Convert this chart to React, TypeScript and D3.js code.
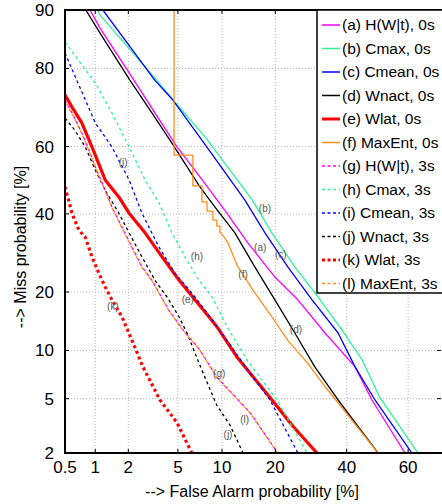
import React from 'react';
import * as d3 from 'd3';

// [false alarm %, miss %]
const hwt0 = [[0.89, 90], [1.11, 87.4], [2.24, 77.4], [3.33, 69.4], [4.92, 59.9], [6.84, 52.2], [10.4, 41.1], [14.3, 31.8], [19.9, 23.3], [25.6, 18.4], [33.3, 12.5], [42.7, 8.0], [48.2, 4.9], [59.0, 2.0]];
const cmax0 = [[1.06, 90], [1.11, 89.3], [3.45, 77.4], [4.59, 72.7], [7.76, 62.8], [15.1, 44.1], [19.2, 34.6], [24.8, 25.7], [31.2, 19.0], [38.5, 13.0], [45.0, 8.8], [50.8, 5.1], [63.1, 2.0]];
const cmean0 = [[1.18, 90], [3.33, 77.4], [4.59, 72.7], [8.24, 59.0], [13.7, 44.1], [17.7, 34.6], [23.0, 25.7], [29.5, 18.4], [37.3, 12.5], [42.7, 8.0], [49.2, 4.9], [61.2, 2.0]];
const wnact0 = [[0.81, 90], [1.11, 86.6], [2.07, 77.4], [3.15, 69.4], [4.51, 61.0], [7.17, 48.0], [9.03, 42.0], [12.0, 34.6], [15.6, 25.7], [19.9, 18.4], [24.8, 12.5], [30.3, 8.0], [37.3, 4.9], [50.2, 2.0]];
const wlat0 = [[0.5, 73.9], [0.59, 70.9], [0.74, 66.7], [0.93, 59.9], [1.24, 50.1], [1.65, 45.0], [2.03, 40.2], [2.77, 34.6], [3.79, 28.2], [5.09, 22.6], [6.62, 18.4], [8.24, 15.2], [9.28, 13.5], [12.5, 9.0], [18.8, 5.1], [24.3, 3.2], [30.9, 2.0]];
const maxent0 = [[4.68, 95], [4.68, 57.5], [6.41, 57.5], [6.41, 48.3], [7.4, 48.3], [7.4, 43.5], [8.0, 43.5], [8.0, 40.8], [8.75, 40.8], [8.75, 38.2], [9.28, 38.2], [9.28, 36.5], [9.71, 36.5], [9.71, 34.8], [10.4, 33.2], [10.9, 31.8], [12.5, 25.7], [15.6, 19.8], [19.2, 15.2], [23.0, 11.4], [28.3, 8.4], [33.3, 6.0], [36.6, 4.9], [50.2, 2.0]];
const hwt3 = [[0.5, 72.7], [0.59, 69.4], [0.74, 63.9], [0.87, 59.0], [1.0, 54.0], [1.24, 47.0], [1.43, 42.0], [1.76, 36.2], [2.15, 30.7], [2.61, 25.7], [3.15, 22.6], [3.59, 19.8], [4.28, 16.4], [5.45, 13.0], [7.17, 10.05], [9.28, 6.9], [14.7, 4.0], [20.6, 2.0]];
const cmax3 = [[0.5, 85.1], [1.0, 76.8], [1.43, 69.4], [2.03, 59.9], [2.77, 50.1], [3.59, 43.2], [4.51, 34.6], [5.63, 28.2], [7.06, 22.6], [8.63, 19.0], [10.75, 13.5], [14.1, 8.8], [20.4, 4.9], [28.1, 2.0]];
const cmean3 = [[0.5, 83.1], [0.66, 77.4], [1.0, 66.7], [1.43, 59.9], [2.03, 50.1], [2.61, 40.2], [3.59, 30.7], [4.76, 24.2], [6.3, 19.8], [7.76, 16.4], [10.75, 11.4], [14.7, 7.3], [18.8, 4.9], [25.6, 2.0]];
const wnact3 = [[0.5, 68.0], [0.63, 64.7], [0.80, 59.9], [1.0, 53.1], [1.24, 47.0], [1.65, 40.2], [2.03, 34.6], [2.61, 28.2], [3.33, 22.6], [4.28, 18.4], [5.09, 15.2], [5.82, 12.5], [7.28, 7.9], [9.28, 4.5], [11.2, 3.27], [13.4, 2.0]];
const wlat3 = [[0.5, 48.0], [0.59, 40.2], [0.69, 35.4], [0.80, 33.4], [0.93, 28.2], [1.08, 24.2], [1.24, 21.1], [1.43, 18.4], [1.76, 15.2], [2.20, 11.0], [2.66, 8.0], [3.65, 4.9], [4.92, 3.4], [6.3, 2.0]];
const maxent3 = [[0.5, 72.5], [0.59, 69.2], [0.74, 63.7], [0.87, 58.8], [1.0, 53.8], [1.24, 46.8], [1.43, 41.8], [1.76, 36.0], [2.15, 30.5], [2.61, 25.6], [3.15, 22.5], [3.59, 19.7], [4.28, 16.3], [5.45, 12.9], [7.17, 10.0], [9.28, 6.85], [14.7, 3.98], [20.5, 2.0]];

const xTicks = [0.5, 1, 2, 5, 10, 20, 40, 60];
const yTicks = [2, 5, 10, 20, 40, 60, 80, 90];

const names = ['(a) H(W|t), 0s', '(b) Cmax, 0s', '(c) Cmean, 0s', '(d) Wnact, 0s', '(e) Wlat, 0s', '(f) MaxEnt, 0s',
  '(g) H(W|t), 3s', '(h) Cmax, 3s', '(i) Cmean, 3s', '(j) Wnact, 3s', '(k) Wlat, 3s', '(l) MaxEnt, 3s'];

// where the small "(a)".."(l)" tags sit, in [fa %, miss %]
const tagPos = [[16.7, 30.7], [17.7, 41.7], [21.3, 28.7], [25.1, 13.0], [5.9, 18.4], [13.4, 23.8],
  [9.6, 7.3], [6.84, 28.2], [1.8, 55.2], [10.9, 2.76], [1.46, 17.0], [13.7, 3.61]];

const green = '#2cf29c';
const orange = '#ff8c1a';
const series = [
  { data: hwt0, color: '#ff00ff', width: 1.3, dash: null },
  { data: cmax0, color: green, width: 1.3, dash: null },
  { data: cmean0, color: '#0000ff', width: 1.3, dash: null },
  { data: wnact0, color: '#000000', width: 1.3, dash: null },
  { data: wlat0, color: '#ff0000', width: 3.2, dash: null },
  { data: maxent0, color: orange, width: 1.3, dash: null },
  { data: hwt3, color: '#ff00ff', width: 1.3, dash: '3,3' },
  { data: cmax3, color: green, width: 1.3, dash: '3,3' },
  { data: cmean3, color: '#0000ff', width: 1.3, dash: '3,3' },
  { data: wnact3, color: '#000000', width: 1.3, dash: '3,3' },
  { data: wlat3, color: '#ff0000', width: 3.2, dash: '3,3' },
  { data: maxent3, color: orange, width: 1.3, dash: '3,3', offset: 3 },
];

// inverse normal cdf (Acklam)
function probit(p: number) {
  const a = [-39.69683028665376, 220.9460984245205, -275.9285104469687, 138.357751867269, -30.66479806614716, 2.506628277459239];
  const b = [-54.47609879822406, 161.5858368580409, -155.6989798598866, 66.80131188771972, -13.28068155288572];
  const c = [-0.007784894002430293, -0.3223964580411365, -2.400758277161838, -2.549732539343734, 4.374664141464968, 2.938163982698783];
  const d = [0.007784695709041462, 0.3224671290700398, 2.445134137142996, 3.754408661907416];
  const pl = 0.02425;
  let q, r;
  if (p < pl) {
    q = Math.sqrt(-2 * Math.log(p));
    return (((((c[0] * q + c[1]) * q + c[2]) * q + c[3]) * q + c[4]) * q + c[5]) / ((((d[0] * q + d[1]) * q + d[2]) * q + d[3]) * q + 1);
  }
  if (p > 1 - pl) {
    q = Math.sqrt(-2 * Math.log(1 - p));
    return -(((((c[0] * q + c[1]) * q + c[2]) * q + c[3]) * q + c[4]) * q + c[5]) / ((((d[0] * q + d[1]) * q + d[2]) * q + d[3]) * q + 1);
  }
  q = p - 0.5;
  r = q * q;
  return (((((a[0] * r + a[1]) * r + a[2]) * r + a[3]) * r + a[4]) * r + a[5]) * q / (((((b[0] * r + b[1]) * r + b[2]) * r + b[3]) * r + b[4]) * r + 1);
}

const W = 442;
const H = 504;
const left = 65, right = 441, top = 10, bottom = 453;
const font = 'Liberation Sans, Arial, sans-serif';

export default function App() {
  const x = d3.scaleLinear().domain([probit(0.005), probit(0.70)]).range([left, right]);
  const y = d3.scaleLinear().domain([probit(0.02), probit(0.90)]).range([bottom, top]);
  const px = (v: number) => x(probit(v / 100));
  const py = (v: number) => y(probit(v / 100));

  const line = d3.line<number[]>().x((d) => px(d[0])).y((d) => py(d[1]));

  return (
    <svg width={W} height={H} style={{ position: 'absolute', left: 0, top: 0, background: '#fff' }} fontFamily={font}>
      <defs>
        <clipPath id="plot">
          <rect x={left} y={top} width={right - left} height={bottom - top} />
        </clipPath>
      </defs>

      {/* grid */}
      <g stroke="#b4b4b4" strokeWidth={1} strokeDasharray="1,2">
        {xTicks.map((t) => (
          <line key={'gx' + t} x1={px(t)} x2={px(t)} y1={top} y2={bottom} />
        ))}
        {yTicks.map((t) => (
          <line key={'gy' + t} x1={left} x2={right} y1={py(t)} y2={py(t)} />
        ))}
      </g>

      {/* curves */}
      <g clipPath="url(#plot)" fill="none" strokeLinejoin="round">
        {series.map((s, i) => (
          <path
            key={i}
            d={line(s.data) || ''}
            stroke={s.color}
            strokeWidth={s.width}
            strokeDasharray={s.dash || undefined}
            strokeDashoffset={s.offset || 0}
          />
        ))}
      </g>

      {/* curve tags */}
      <g fontSize={10} fill="#555" textAnchor="middle">
        {tagPos.map((p, i) => (
          <text key={i} x={px(p[0])} y={py(p[1])} dy="0.35em">
            {'(' + 'abcdefghijkl'[i] + ')'}
          </text>
        ))}
      </g>

      {/* ticks */}
      <g stroke="#000" strokeWidth={1}>
        {xTicks.map((t) => (
          <g key={'tx' + t}>
            <line x1={px(t)} x2={px(t)} y1={bottom} y2={bottom - 4} />
            <line x1={px(t)} x2={px(t)} y1={top} y2={top + 4} />
          </g>
        ))}
        {yTicks.map((t) => (
          <g key={'ty' + t}>
            <line x1={left} x2={left + 4} y1={py(t)} y2={py(t)} />
            <line x1={right} x2={right - 4} y1={py(t)} y2={py(t)} />
          </g>
        ))}
      </g>

      {/* frame */}
      <g stroke="#000" strokeWidth={2}>
        <line x1={left} x2={left} y1={top - 1} y2={bottom + 1} />
        <line x1={left - 1} x2={W} y1={bottom} y2={bottom} />
        <line x1={left - 1} x2={W} y1={top} y2={top} />
      </g>

      {/* tick labels */}
      <g fontSize={17} fill="#000">
        {xTicks.map((t) => (
          <text key={'lx' + t} x={px(t)} y={473} textAnchor="middle">
            {t}
          </text>
        ))}
        {yTicks.map((t) => (
          <text key={'ly' + t} x={54} y={py(t)} dy="0.35em" textAnchor="end">
            {t}
          </text>
        ))}
      </g>

      {/* axis titles */}
      <text x={252} y={497} fontSize={16} textAnchor="middle">
        {'--> False Alarm probability [%]'}
      </text>
      <text transform="translate(26,247) rotate(-90)" fontSize={16} textAnchor="middle">
        {'--> Miss probability [%]'}
      </text>

      {/* legend */}
      <rect x={317} y={top} width={W - 317 + 2} height={283} fill="#fff" stroke="#000" strokeWidth={1.5} />
      {series.map((s, i) => {
        const ly = 25 + i * 23.5;
        return (
          <g key={'lg' + i}>
            <line x1={322} x2={340} y1={ly} y2={ly} stroke={s.color} strokeWidth={s.width > 2 ? 3 : 1.5}
              strokeDasharray={s.dash ? '3,2.5' : undefined} />
            <text x={342} y={ly} dy="0.35em" fontSize={15.5}>
              {names[i]}
            </text>
          </g>
        );
      })}
    </svg>
  );
}
